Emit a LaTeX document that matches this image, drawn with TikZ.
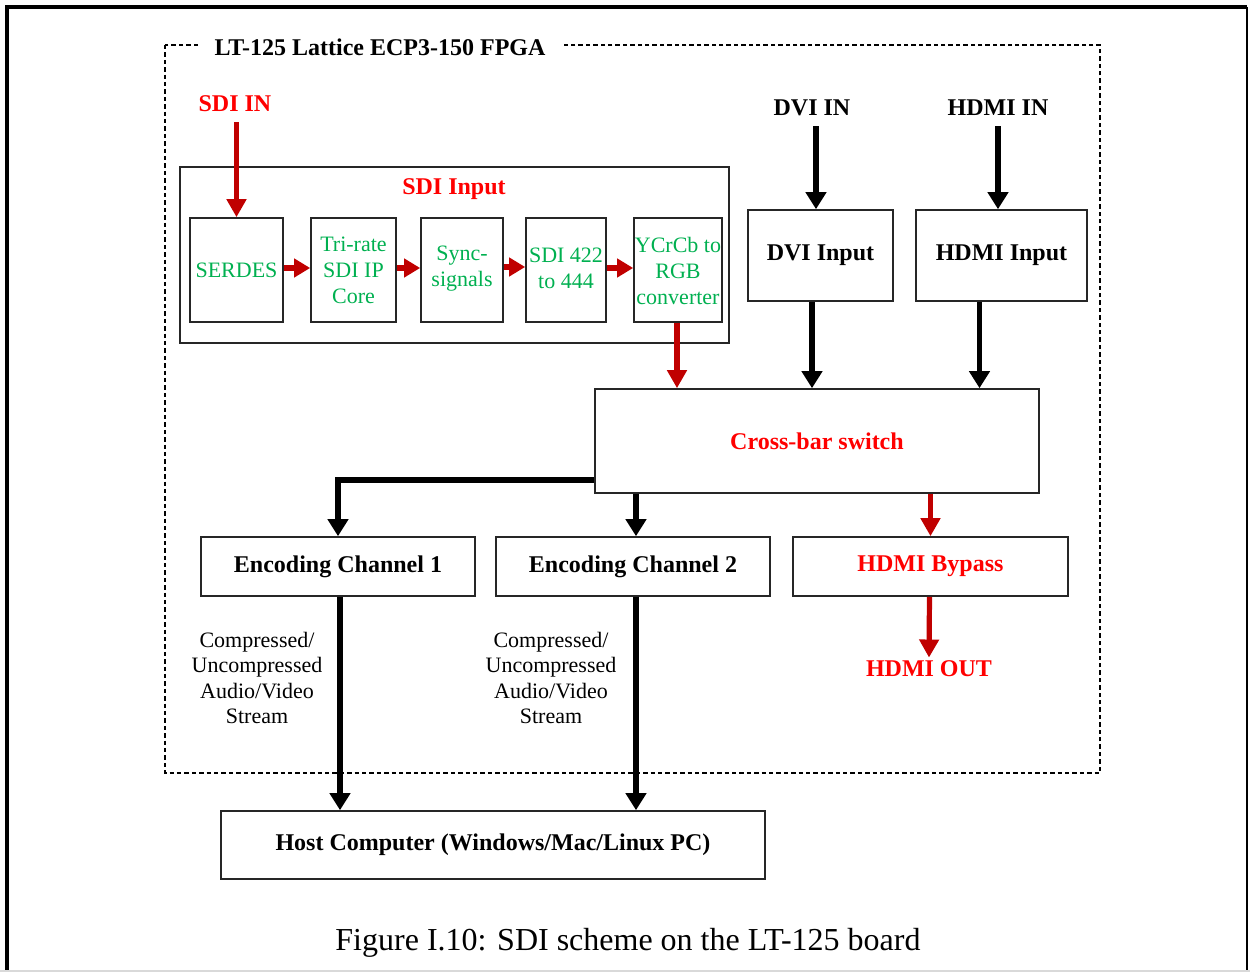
\documentclass[tikz,border=0pt]{standalone}
\usepackage{fontspec}
\setmainfont{Liberation Serif}
\usetikzlibrary{arrows.meta,calc}
\definecolor{hotred}{HTML}{FF0000}
\definecolor{darkred}{HTML}{C00000}
\definecolor{sdigreen}{HTML}{00B050}
\begin{document}
\begin{tikzpicture}[x=0.5pt,y=-0.5pt,
  box/.style={draw=black!85,line width=0.8pt,inner sep=0pt,align=center},
  size/.style 2 args={minimum width=#1*0.5pt,minimum height=#2*0.5pt},
  boldlbl/.style={font=\fontsize{12}{14}\selectfont\bfseries},
  greenlbl/.style={font=\fontsize{11}{13}\selectfont,text=sdigreen,align=center},
  plainlbl/.style={font=\fontsize{11}{12.75}\selectfont,align=center},
  blkarrow/.style={line width=2.6pt,-{Triangle[width=10pt,length=8.5pt]}},
  redarrow/.style={line width=2.6pt,darkred,-{Triangle[width=9.5pt,length=9pt]}},
  smallarrow/.style={line width=3pt,darkred,-{Triangle[width=9pt,length=8pt]}}
]
\useasboundingbox (0,0) rectangle (1250,972);

% page frame
\draw[line width=2.4pt] (7,975) -- (7,7) -- (1247,7);
\draw[line width=1.2pt] (1247,7) -- (1247,975);
\draw[black!15,line width=0.8pt] (0,971) -- (1250,971);

% FPGA boundary
\draw[line width=0.6pt,dash pattern=on 2.2pt off 1.5pt] (165,45) rectangle (1100,773);
\node[boldlbl,fill=white,inner xsep=8pt,inner ysep=2pt] (fpga) at (380,47) {LT-125 Lattice ECP3-150 FPGA};

% SDI input chain
\node[box,size={549}{176}] (sdiblock) at (454.5,255) {};
\node[boldlbl,text=hotred,inner sep=0pt] (sdititle) at (454,189) {SDI Input};
\node[boldlbl,text=hotred,inner sep=0pt] (sdiin) at (235,104) {SDI IN};

\node[box,size={93}{104}] (serdes) at (236.5,270) {};
\node[greenlbl] at (serdes) {SERDES};
\node[box,size={85}{104}] (trirate) at (353.5,270) {};
\node[greenlbl] at (trirate) {Tri-rate\\SDI IP\\Core};
\node[box,size={82}{104}] (sync) at (462,270) {};
\node[greenlbl] at ($(sync)+(0,-1.5)$) {Sync-\\signals};
\node[box,size={80}{104}] (conv) at (566,270) {};
\node[greenlbl] at ($(conv)+(0,-1.5)$) {SDI 422\\to 444};
\node[box,size={88}{104}] (ycrcb) at (678,270) {};
\node[greenlbl] at ($(ycrcb)+(0,1)$) {YCrCb to\\RGB\\converter};

% DVI / HDMI inputs
\node[boldlbl,inner sep=0pt] (dviin) at (812,108) {DVI IN};
\node[boldlbl,inner sep=0pt] (hdmiin) at (998,108) {HDMI IN};
\node[box,boldlbl,size={145}{91}] (dvi) at (820.5,255.5) {DVI Input};
\node[box,boldlbl,size={171}{91}] (hdmi) at (1001.5,255.5) {HDMI Input};

% cross-bar switch
\node[box,boldlbl,text=hotred,size={444}{104}] (xbar) at (817,441) {Cross-bar switch};

% outputs
\node[box,boldlbl,size={274}{59}] (enc1) at (338,566.5) {Encoding Channel 1};
\node[box,boldlbl,size={274}{59}] (enc2) at (633,566.5) {Encoding Channel 2};
\node[box,boldlbl,text=hotred,size={275}{59}] (bypass) at (930.5,566.5) {HDMI Bypass};
\node[boldlbl,text=hotred,inner sep=0pt] (hdmiout) at (929,669) {HDMI OUT};

\node[plainlbl] (stream1) at (257,678) {Compressed/\\Uncompressed\\Audio/Video\\Stream};
\node[plainlbl] (stream2) at (551,678) {Compressed/\\Uncompressed\\Audio/Video\\Stream};

\node[box,boldlbl,size={544}{68}] (host) at (493,845) {Host Computer (Windows/Mac/Linux PC)};

% caption
\node[font=\fontsize{16}{18}\selectfont,inner sep=0pt] (caption) at (628,943) {Figure I.10: SDI scheme on the LT-125 board};

% SDI connectors
\draw[redarrow] ($(serdes.north)+(0,-95)$) -- (serdes.north);
\draw[smallarrow] (serdes.east |- 0,268) -- (trirate.west |- 0,268);
\draw[smallarrow] (trirate.east |- 0,268) -- (sync.west |- 0,268);
\draw[smallarrow] (sync.east |- 0,267) -- (conv.west |- 0,267);
\draw[smallarrow] (conv.east |- 0,268) -- (ycrcb.west |- 0,268);
\draw[redarrow] ($(ycrcb.south)+(-1,0)$) -- ($(ycrcb.south |- xbar.north)+(-1,0)$);

% DVI / HDMI connectors
\draw[blkarrow] ($(dviin.south)+(4,10)$) -- ($(dviin.south |- dvi.north)+(4,0)$);
\draw[blkarrow] ($(hdmiin.south)+(0,10)$) -- (hdmiin.south |- hdmi.north);
\draw[blkarrow] (dviin |- dvi.south) -- (dviin |- xbar.north);
\draw[blkarrow] ($(hdmi.south)+(-22,0)$) -- ($(hdmi.south |- xbar.north)+(-22,0)$);

% cross-bar outputs
\draw[blkarrow] ($(xbar.west)+(0,39)$) -| (enc1.north);
\draw[blkarrow] ($(enc2.north |- xbar.south)+(3,0)$) -- ($(enc2.north)+(3,0)$);
\draw[redarrow] (bypass.north |- xbar.south) -- (bypass.north);
\draw[redarrow] ($(bypass.south)+(-1,0)$) -- ($(hdmiout.north)+(0,-3)$);

% streams to host
\draw[blkarrow] ($(enc1.south)+(2,0)$) -- ($(enc1.south |- host.north)+(2,0)$);
\draw[blkarrow] ($(enc2.south)+(3,0)$) -- ($(enc2.south |- host.north)+(3,0)$);
\end{tikzpicture}
\end{document}
